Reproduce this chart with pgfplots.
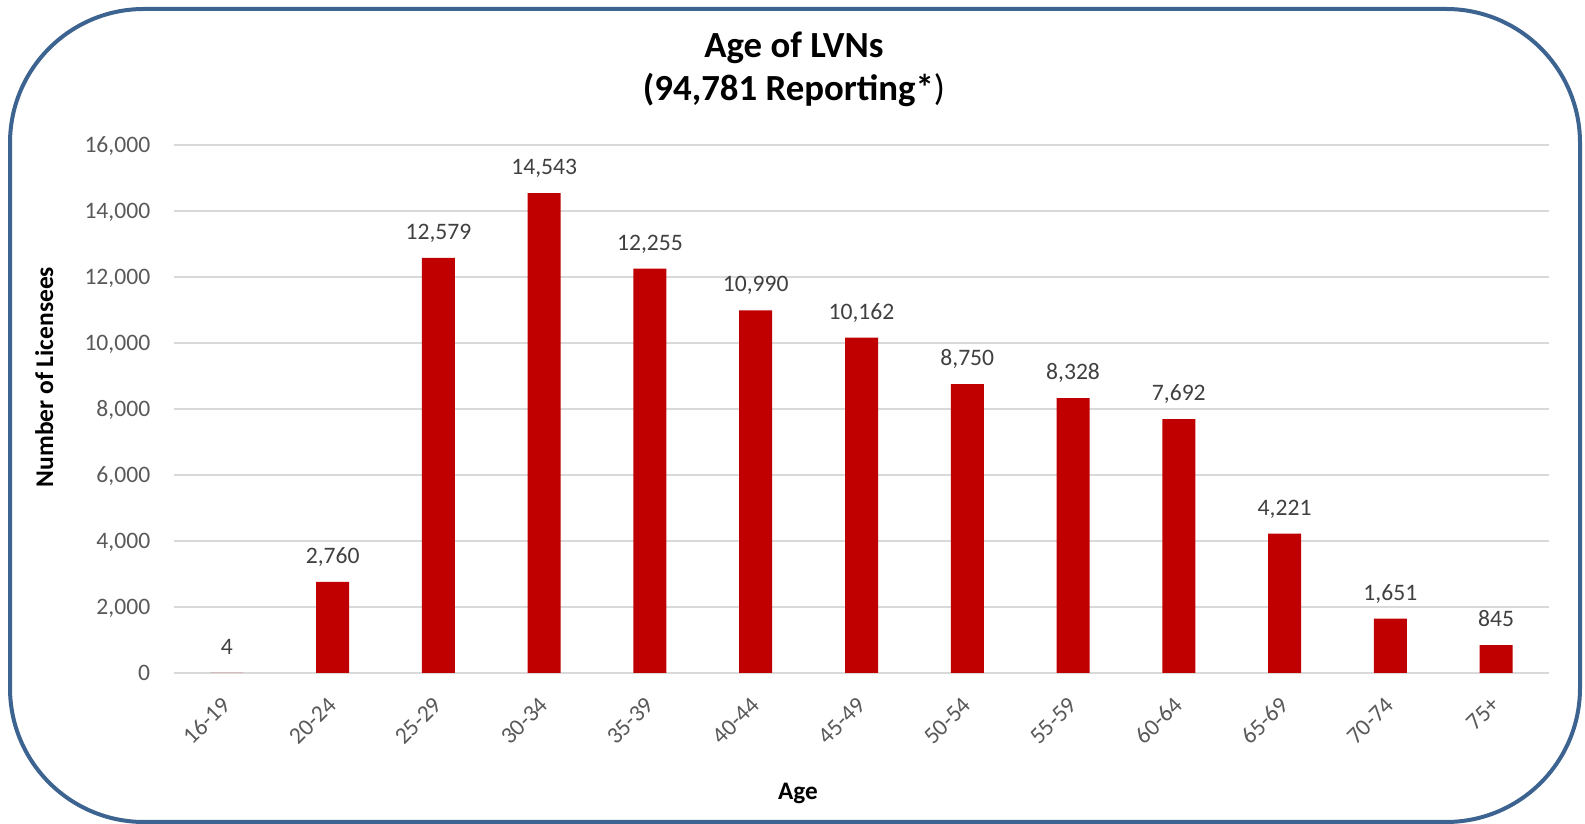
\documentclass[border=0pt]{standalone}
\usepackage{pgfplots}
\pgfplotsset{compat=1.18}
\usepackage{fontspec}
\setmainfont{Carlito}
\definecolor{barred}{HTML}{C00000}
\definecolor{framec}{HTML}{3D6491}
\definecolor{gridc}{HTML}{D9D9D9}
\definecolor{tickc}{HTML}{595959}
\definecolor{labc}{HTML}{404040}
\newcommand{\tickfont}{\fontsize{11.8}{14}\selectfont}
\begin{document}
\begin{tikzpicture}
\useasboundingbox (0,0) rectangle (792.5pt,412pt);
\draw[framec, line width=2pt, rounded corners=67pt] (5pt,1pt) rectangle (790pt,407.5pt);
\begin{axis}[
  at={(87pt,75.5pt)}, anchor=south west,
  scale only axis, width=687.5pt, height=264pt,
  ybar, bar width=16.5pt,
  xmin=-0.5, xmax=12.5, ymin=0, ymax=16000,
  xtick={0,...,12},
  xticklabels={16-19,20-24,25-29,30-34,35-39,40-44,45-49,50-54,55-59,60-64,65-69,70-74,75+},
  ytick={0,2000,...,16000},
  scaled y ticks=false,
  ymajorgrids, grid style={gridc, line width=1pt},
  axis line style={draw=none},
  major tick length=0pt,
  /pgf/number format/1000 sep={,},
  /pgf/number format/assume math mode=true,
  yticklabel style={font=\tickfont, color=tickc, anchor=east, inner sep=0pt, text height=7.5pt, text depth=0pt, xshift=-11.7pt},
  xticklabel style={yshift=-14pt, rotate=45, anchor=east, inner sep=0pt, text height=7.5pt, text depth=0pt, font=\tickfont, color=tickc},
  nodes near coords,
  every node near coord/.append style={anchor=base, yshift=9.25pt, font=\tickfont, color=labc},
]
\addplot[fill=barred, draw=none] coordinates {
(0,4) (1,2760) (2,12579) (3,14543) (4,12255) (5,10990) (6,10162)
(7,8750) (8,8328) (9,7692) (10,4221) (11,1651) (12,845)};
\end{axis}
\node[anchor=base, font=\fontsize{18.4}{22}\selectfont\bfseries] at (397pt,383pt) {Age of LVNs};
\node[anchor=base, font=\fontsize{18.4}{22}\selectfont\bfseries] at (397pt,361.5pt) {(94,781 Reporting*\mdseries)};
\node[anchor=base, rotate=90, font=\fontsize{12.75}{15}\selectfont\bfseries] at (26.5pt,223.5pt) {Number of Licensees};
\node[anchor=base, font=\fontsize{12.6}{15}\selectfont\bfseries] at (399pt,12.35pt) {Age};
\end{tikzpicture}
\end{document}
